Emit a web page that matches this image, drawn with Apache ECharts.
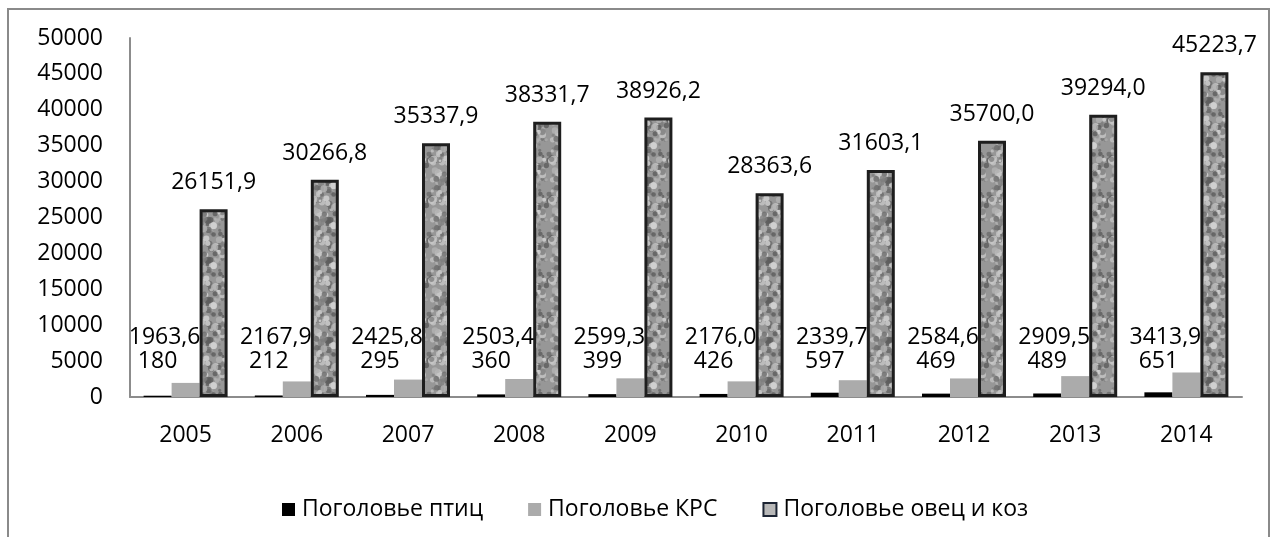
<!DOCTYPE html>
<html>
<head>
<meta charset="utf-8">
<script src="https://cdn.jsdelivr.net/npm/echarts@6/dist/echarts.min.js"></script>
<style>
  html, body { margin: 0; padding: 0; background: #fff; }
  #main { width: 1273px; height: 537px; }
</style>
</head>
<body>
<div id="main"></div>
<script>
// данные
var years = ['2005', '2006', '2007', '2008', '2009', '2010', '2011', '2012', '2013', '2014'];
var birds = [180, 212, 295, 360, 399, 426, 597, 469, 489, 651];
var cattle = [1963.6, 2167.9, 2425.8, 2503.4, 2599.3, 2176.0, 2339.7, 2584.6, 2909.5, 3413.9];
var sheepGoats = [26151.9, 30266.8, 35337.9, 38331.7, 38926.2, 28363.6, 31603.1, 35700.0, 39294.0, 45223.7];
var seriesNames = ['Поголовье птиц', 'Поголовье КРС', 'Поголовье овец и коз'];

var FONT = '"Open Sans", "Noto Sans", sans-serif';

// пятнистая текстура для столбиков (овцы и козы)
function makeTexture() {
    var size = 40;
    var c = document.createElement('canvas');
    c.width = size; c.height = size;
    var ctx = c.getContext('2d');
    ctx.fillStyle = '#979797';
    ctx.fillRect(0, 0, size, size);
    var s = 11;
    function next() { s = (s * 16807) % 2147483647; return s / 2147483647; }
    var tones = ['#c6c6c6', '#6c6c6c', '#b3b3b3', '#5c5c5c', '#d4d4d4', '#808080'];
    for (var i = 0; i < 80; i++) {
        ctx.fillStyle = tones[i % tones.length];
        ctx.globalAlpha = 0.8;
        ctx.beginPath();
        var x = next() * size, y = next() * size, r = 1.2 + next() * 2.6;
        for (var dx = -size; dx <= size; dx += size) {
            for (var dy = -size; dy <= size; dy += size) {
                ctx.moveTo(x + dx + r, y + dy);
                ctx.arc(x + dx, y + dy, r, 0, Math.PI * 2);
            }
        }
        ctx.fill();
    }
    return c;
}
var texture = makeTexture();

function comma(v) { return v.toFixed(1).replace('.', ','); }

var myChart = echarts.init(document.getElementById('main'));

myChart.setOption({
    animation: false,
    backgroundColor: '#fff',
    textStyle: { fontFamily: FONT },
    graphic: [{
        type: 'rect',
        shape: { x: 8, y: 9, width: 1261, height: 600 },
        style: { fill: 'none', stroke: '#8a8a8a', lineWidth: 2 },
        silent: true
    }],
    grid: { left: 130, right: 31, top: 38, bottom: 140 },
    legend: {
        left: 277, top: 493,
        itemWidth: 13, itemHeight: 13, itemGap: 45,
        icon: 'rect',
        textStyle: { fontSize: 23, color: '#000', fontFamily: FONT, padding: [0, 0, 0, 2] },
        data: [
            { name: seriesNames[0] },
            { name: seriesNames[1] },
            { name: seriesNames[2], itemStyle: { color: '#b8b8b8', borderColor: '#1c2433', borderWidth: 2 } }
        ]
    },
    xAxis: {
        type: 'category',
        data: years,
        axisLine: { lineStyle: { color: '#8c8c8c', width: 2 } },
        axisTick: { show: false },
        axisLabel: { margin: 27, fontSize: 23, color: '#000', fontFamily: FONT }
    },
    yAxis: {
        type: 'value',
        min: 0, max: 50000, interval: 5000,
        axisLine: { show: true, lineStyle: { color: '#8c8c8c', width: 2 } },
        axisTick: { show: false },
        splitLine: { show: false },
        axisLabel: {
            margin: 27, fontSize: 23, color: '#000', fontFamily: FONT,
            formatter: function (v) { return String(v); }
        }
    },
    series: [
        {
            name: seriesNames[0],
            type: 'bar',
            data: birds,
            barWidth: 28,
            barGap: '0%',
            itemStyle: { color: '#000' },
            label: {
                show: true, position: 'insideBottom', distance: 24,
                fontSize: 23, color: '#000', fontFamily: FONT,
                formatter: function (p) { return String(p.value); }
            }
        },
        {
            name: seriesNames[1],
            type: 'bar',
            data: cattle,
            barWidth: 28,
            barGap: '0%',
            itemStyle: { color: '#ababab' },
            label: {
                show: true, position: 'insideBottom', distance: 48, offset: [-21, 0],
                fontSize: 23, color: '#000', fontFamily: FONT,
                formatter: function (p) { return comma(p.value); }
            }
        },
        {
            name: seriesNames[2],
            type: 'bar',
            data: sheepGoats,
            barWidth: 28,
            barGap: '0%',
            itemStyle: {
                color: { image: texture, repeat: 'repeat' },
                borderColor: '#1e1e1e',
                borderWidth: 3
            },
            label: {
                show: true, position: 'top', distance: 15,
                fontSize: 23, color: '#000', fontFamily: FONT,
                formatter: function (p) { return comma(p.value); }
            }
        }
    ]
});
</script>
</body>
</html>
